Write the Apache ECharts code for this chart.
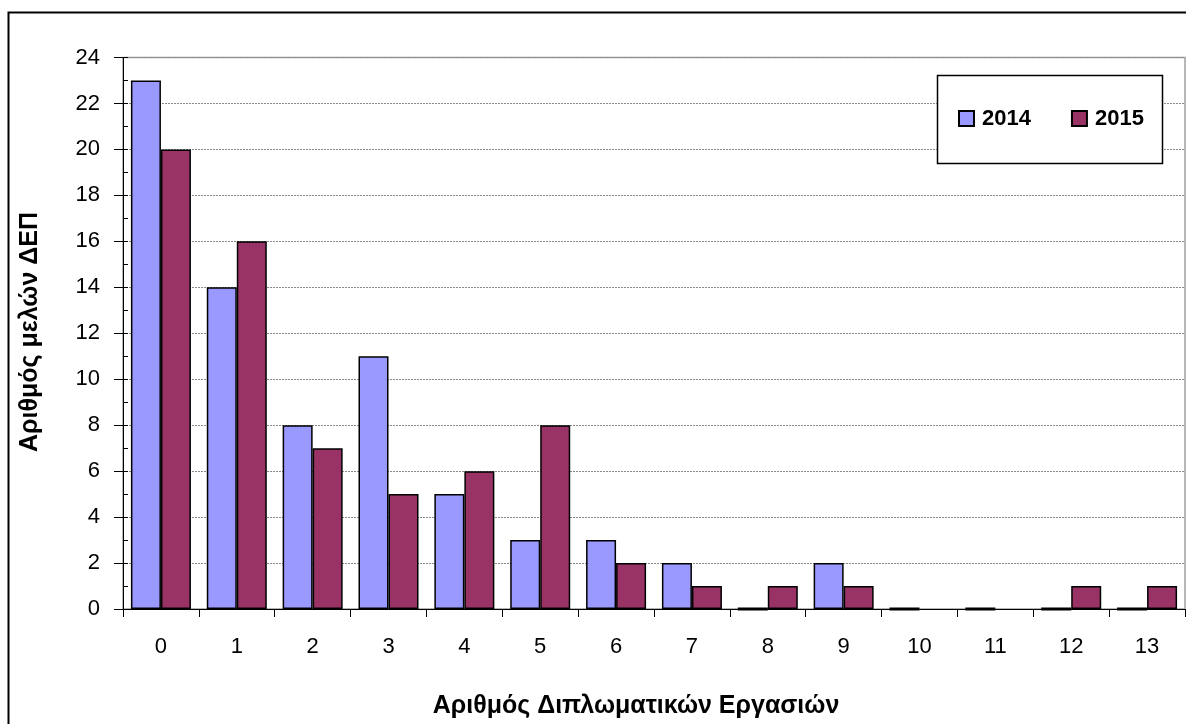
<!DOCTYPE html>
<html><head><meta charset="utf-8">
<script src="https://cdn.jsdelivr.net/npm/echarts@6/dist/echarts.min.js"></script>
<style>html,body{margin:0;padding:0;background:#fff}#c{width:1186px;height:724px}</style>
</head><body><div id="c"></div>
<script>
const categories = ['0','1','2','3','4','5','6','7','8','9','10','11','12','13'];
const values2014 = [23,14,8,11,5,3,3,2,0,2,0,0,0,0];
const values2015 = [20,16,7,5,6,8,2,1,1,1,null,null,1,1];
const seriesNames = ['2014','2015'];
const yTicks = {min:0, max:24, interval:2};
const xTitle = 'Αριθμός Διπλωματικών Εργασιών';
const yTitle = 'Αριθμός μελών ΔΕΠ';

const FONT = '"Liberation Sans", Arial, sans-serif';
function withZeroLines(arr){
  return arr.map(v => v === 0 ? {value:0, itemStyle:{borderWidth:3}} : v);
}
const chart = echarts.init(document.getElementById('c'), null, {renderer:'canvas'});
chart.setOption({
  animation:false,
  backgroundColor:'#fff',
  grid:{left:123, right:1, top:57.5, bottom:115, show:true, borderColor:'#a0a0a0', borderWidth:1.5},
  legend:{
    data:seriesNames, left:953, top:102.5, z:120,
    icon:'rect', itemWidth:15, itemHeight:15, itemGap:40,
    textStyle:{fontFamily:FONT, fontSize:22, fontWeight:'bold', color:'#000', padding:[0,0,0,3]}
  },
  graphic:[
    {type:'rect', z:100, shape:{x:8.5, y:12.5, width:1300, height:800}, style:{fill:'none', stroke:'#000', lineWidth:2}},
    {type:'rect', z:110, shape:{x:937.5, y:75.5, width:225, height:88}, style:{fill:'#fff', stroke:'#000', lineWidth:1.5}},
    {type:'text', z:110, style:{x:636, y:706, text:xTitle, font:'bold 25px '+FONT, fill:'#000', align:'center', verticalAlign:'middle'}},
    {type:'text', z:110, x:30, y:332, rotation:Math.PI/2, style:{x:0, y:0, text:yTitle, font:'bold 25px '+FONT, fill:'#000', align:'center', verticalAlign:'middle'}}
  ],
  xAxis:{
    type:'category', data:categories, boundaryGap:true,
    axisLine:{lineStyle:{color:'#000', width:1}},
    axisTick:{show:true, length:8, lineStyle:{color:'#000'}},
    axisLabel:{fontFamily:FONT, fontSize:22, color:'#000', margin:27},
    splitLine:{show:false}
  },
  yAxis:[{
    type:'value', min:yTicks.min, max:yTicks.max, interval:yTicks.interval,
    axisLine:{show:true, lineStyle:{color:'#000', width:1}},
    axisTick:{show:true, length:9, lineStyle:{color:'#000'}},
    axisLabel:{fontFamily:FONT, fontSize:22, color:'#000', margin:23},
    splitLine:{show:true, lineStyle:{color:'#8a8a8a', type:[2,1], width:1}}
  },{
    type:'value', position:'left', offset:0, min:yTicks.min, max:yTicks.max, interval:yTicks.interval,
    axisLine:{show:false},
    axisTick:{show:true, inside:true, length:5, lineStyle:{color:'#000'}},
    minorTick:{show:true, splitNumber:2, length:5, lineStyle:{color:'#000'}},
    axisLabel:{show:false},
    splitLine:{show:false}
  }],
  series:[
    {name:seriesNames[0], type:'bar', data:withZeroLines(values2014), barWidth:30, barGap:'0%',
     itemStyle:{color:'#9999FF', borderColor:'#000', borderWidth:1.5}},
    {name:seriesNames[1], type:'bar', data:withZeroLines(values2015), barWidth:30, barGap:'0%',
     itemStyle:{color:'#993366', borderColor:'#000', borderWidth:1.5}}
  ]
});
</script></body></html>
